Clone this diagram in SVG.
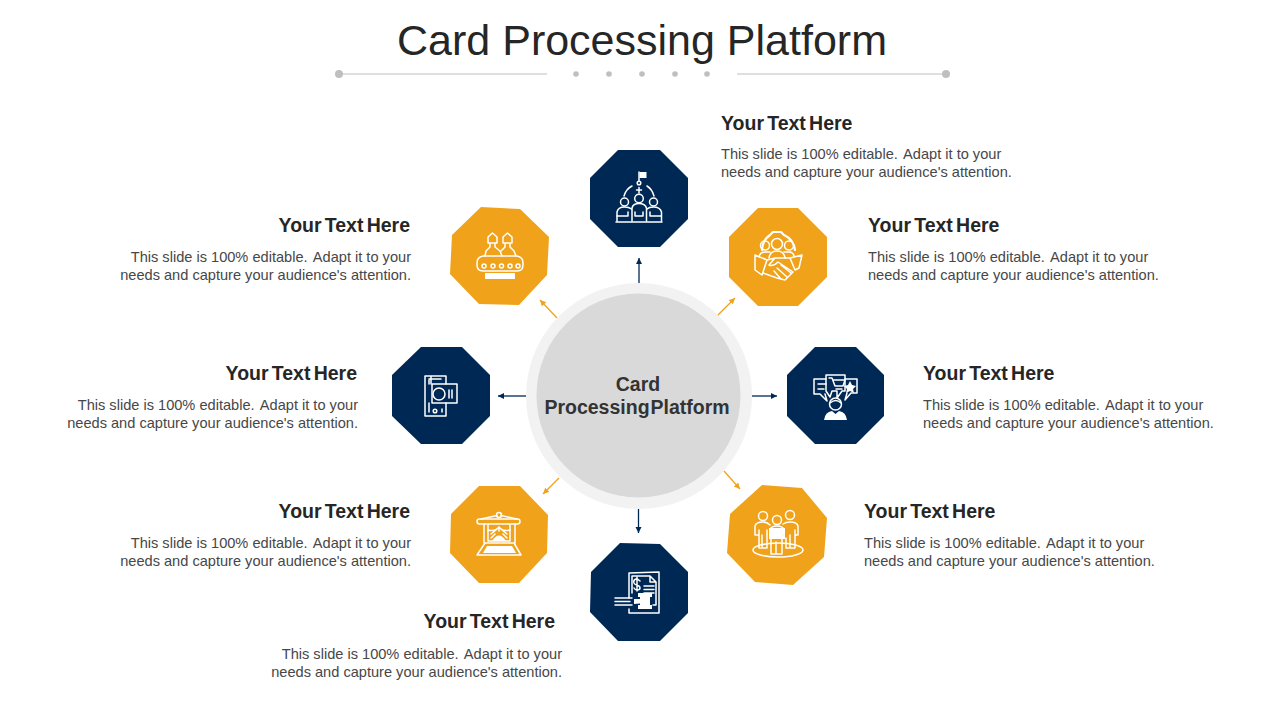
<svg xmlns="http://www.w3.org/2000/svg" width="1280" height="720" viewBox="0 0 1280 720">
<style>
text{font-family:"Liberation Sans",Arial,sans-serif}
.title{font-size:43px;fill:#262626;text-anchor:middle}
.h{font-size:19.500px;font-weight:700;fill:#262626;word-spacing:-2.200px}
.b{font-size:14.600px;fill:#474747}
.e{text-anchor:end}
.c{font-size:19.500px;font-weight:700;fill:#333;text-anchor:middle;word-spacing:-4.500px}
.navy{fill:#002855}
.org{fill:#f0a31a}
.i{fill:none;stroke:#fff;stroke-width:1.500;stroke-linejoin:round;stroke-linecap:round}
.f{fill:#fff;stroke:none}
.an{stroke:#002855;stroke-width:1.300;fill:none;marker-end:url(#an)}
.ao{stroke:#f0a31a;stroke-width:1.300;fill:none;marker-end:url(#ao)}
.dot{fill:#bfbfbf}
</style>
<defs>
<marker id="an" markerUnits="userSpaceOnUse" markerWidth="8" markerHeight="8" refX="6" refY="3" orient="auto"><path d="M0 0L6 3L0 6Z" fill="#002855"/></marker>
<marker id="ao" markerUnits="userSpaceOnUse" markerWidth="8" markerHeight="8" refX="6" refY="3" orient="auto"><path d="M0 0L6 3L0 6Z" fill="#f0a31a"/></marker>
</defs>
<rect width="1280" height="720" fill="#fff"/>
<g id="header">
<text class="title" x="642" y="55">Card Processing Platform</text>
<path d="M339 74H547M737 74H946" stroke="#bfbfbf" stroke-width="1.200" fill="none"/>
<circle class="dot" cx="339" cy="74" r="4"/><circle class="dot" cx="946" cy="74" r="4"/>
<circle class="dot" cx="576" cy="74" r="2.800"/><circle class="dot" cx="609" cy="74" r="2.800"/><circle class="dot" cx="642" cy="74" r="2.800"/><circle class="dot" cx="675" cy="74" r="2.800"/><circle class="dot" cx="707" cy="74" r="2.800"/>
</g>
<g id="connectors">
<path class="an" d="M639 283V258"/>
<path class="ao" d="M717 316L735 298"/>
<path class="an" d="M752 396H777"/>
<path class="ao" d="M724 471L740 489"/>
<path class="an" d="M638.500 509V533"/>
<path class="ao" d="M559 478L543 494"/>
<path class="an" d="M526 396H498"/>
<path class="ao" d="M557 318L540 300"/>
</g>
<g id="hub">
<circle cx="639" cy="396" r="113" fill="#f2f2f2"/>
<circle cx="638.500" cy="395.500" r="102" fill="#d9d9d9"/>
<text class="c" x="638" y="391">Card</text>
<text class="c" x="637" y="414">Processing Platform</text>
</g>
<g id="node-top">
<path class="navy" d="M618 150H660L688 178V219L660 247H618L590 219V178Z"/>
<path class="f" d="M639.500 172H646.500V178H639.500Z"/>
<g class="i">
<path d="M639 172V181"/><circle cx="639" cy="183" r="1.800"/>
<path d="M639 187.500V193M636.500 190H641.500"/>
<path d="M632 186Q626 189 624 196M647 186Q652 189 654 196"/>
<circle cx="624.500" cy="202" r="4"/><circle cx="639" cy="198.500" r="4.300"/><circle cx="653.500" cy="202" r="4"/>
<path d="M617 221V212Q618 207 624.500 207Q629 207 631.500 209M647 209Q649 207 653.500 207Q660 207 661.500 212V221"/>
<path d="M632 221V208Q633 203.500 639 203.500Q645 203.500 646.500 208V221"/>
<path d="M617 216H628V212M661 216H650V212M635 212V216H643V212M616 222H662"/>
</g></g>
<g id="node-top-right">
<path class="org" d="M758 208H798L827 237V277L798 306H758L729 277V237Z"/>
<g class="i">
<path d="M762 250A19 19 0 0 1 770 235L773 232H781L784 235A19 19 0 0 1 795 250" stroke-width="2.200"/>
<circle cx="765" cy="245.500" r="4.500"/><circle cx="777" cy="244" r="5.500"/><circle cx="789" cy="245.500" r="4.500"/>
<path d="M759 257Q760 252 765 252L770 252M784 252H789Q793 252 794 256M769 258Q770 251 777 251Q784 251 785 258"/>
<path d="M755 255L767 260L762 275L755 270ZM802 255L790 258L795 270L799 268Z"/>
<path d="M767 260L775 258L790 258M775 258L769 265Q773 267 778 262L793 272L785 280L777 278L763 273M781 265L791 273M777 268L787 277M774 271L781 279"/>
</g></g>
<g id="node-top-left">
<path class="org" d="M481 207L520 209L549 237L547 275L519 305L479 304L450 274L452 235Z"/>
<g class="i">
<path d="M477 263Q477 257 483 256H517Q523 257 523 263V265Q523 271 517 271H483Q477 271 477 265Z"/>
<circle cx="484" cy="266" r="2"/><circle cx="493" cy="266" r="2"/><circle cx="501.500" cy="266" r="2"/><circle cx="510" cy="266" r="2"/><circle cx="518" cy="266" r="2"/>
<path d="M492.500 233L497 237V243H488V237ZM488 243H497M490 243V247L486 251L485 256M495 243V247L500 251L502 256"/>
<path d="M507.500 233L512 237V243H503V237ZM503 243H512M505 243V247L501 251M510 243V247L514 251L516 256"/>
</g>
<rect class="f" x="485" y="273" width="30" height="6"/></g>
<g id="node-left">
<path class="navy" d="M421 347H462L490 375V416L462 444H421L392 416V375Z"/>
<g class="i">
<path d="M431 384V376H425V416H446V403M446 384V376H431M429 379H441M429 380V384M429 403V412M442 409V412"/>
<circle cx="435" cy="411" r="1.800"/>
<rect x="432" y="384" width="25" height="19"/><circle cx="439" cy="394" r="6"/>
<path d="M449 390V398M452 390V398"/>
</g></g>
<g id="node-right">
<path class="navy" d="M815 347H856L884 375V416L856 444H815L787 416V375Z"/>
<g class="i">
<path d="M826 379H814V394H820L827 401L825 394"/>
<path d="M818 384H826M818 389H824"/>
<path d="M826 375H845V391H842L837 398V391H832L830 397L826 391Z"/>
<path d="M829 378H832L835 386H843L845 380H833M836 389H842"/>
<path d="M845 379H857V393H851L845 400L847 393"/>
<circle cx="835.500" cy="404" r="6"/><path d="M830 403Q836 398 841 403"/>
</g>
<path class="f" d="M850 381L852 385L856 386L853 389L854 393L850 391L846 393L847 389L844 386L848 385Z"/>
<path class="f" d="M824 420Q825 412 832 411L835.500 414L839 411Q846 412 847 420Z"/></g>
<g id="node-bottom-right">
<path class="org" d="M762 485L802 488L827 518L824 557L793 585L755 582L727 553L730 514Z"/>
<g class="i">
<ellipse cx="778" cy="550" rx="25" ry="7"/>
<circle cx="763" cy="516" r="4.500"/><circle cx="777" cy="520" r="4.500"/><circle cx="790" cy="515" r="4.500"/>
<path d="M755 535V526Q756 522 763 522Q767 522 770 525M759 530V548H762V535M762 548H767V530M755 535H758"/>
<path d="M783 524Q786 522 790 522Q797 522 798 526V535H795M795 530V548H790V535M790 548H786V538"/>
<path d="M770 530Q771 526 777 526Q783 526 784 530M771 538V554H776V542M776 554H782V538"/>
</g>
<rect class="f" x="769" y="528" width="16" height="11"/></g>
<g id="node-bottom">
<path class="navy" d="M620 543L660 544L688 572V613L660 641H618L590 612L591 572Z"/>
<g class="i">
<path d="M629 598V573L659 572V613H629V609"/>
<path d="M632 593V576H650L656 582V605H653M650 576V582H656"/>
</g>
<g class="i" stroke-width="1.200">
<path d="M637 577V591M640 581Q638 579 636 579Q633 580 634 583Q635 585 637 585Q640 586 640 588Q640 590 637 590Q635 590 634 588"/>
<path d="M644 586H654M644 589.500H654M644 593H654"/>
<path d="M615 598H632M615 605H632M615 601.500H630"/>
</g>
<path class="f" d="M638 593H652V597H650V605H652V609H638V605H640V603.500L634 604V599L640 599V597H638Z"/>
</g>
<g id="node-bottom-left">
<path class="org" d="M479 486L520 486L548 515L547 553L519 583L479 583L450 553L451 514Z"/>
<g class="i">
<rect x="477" y="519" width="43" height="5" rx="2.500"/><circle cx="499" cy="515" r="2.500"/>
<path d="M481 519L497 515.500M517 519L501 515.500"/>
<path d="M484 524V543M515 524V543M488 525V541H510V525"/>
<path d="M488 530Q495 532 499 527Q503 532 510 530M491 534L496 530M507 534L502 530M499 527V531M491 538L495 534M507 538L503 534"/>
<path d="M485 543L477 555H521L514 543Z"/>
</g>
<path class="f" d="M492 541Q499 530 506 541Z"/><path class="f" d="M487 546H512L516 553H483Z"/></g>
<g id="label-top"><text class="h" x="721" y="130">Your Text Here</text><text class="b" x="721" y="159">This slide is 100% editable. <tspan dx="2">Adapt it to your</tspan></text><text class="b" x="721" y="177">needs and capture your audience's attention.</text></g>
<g id="label-top-right"><text class="h" x="868" y="232">Your Text Here</text><text class="b" x="868" y="262">This slide is 100% editable. <tspan dx="2">Adapt it to your</tspan></text><text class="b" x="868" y="280">needs and capture your audience's attention.</text></g>
<g id="label-right"><text class="h" x="923" y="380">Your Text Here</text><text class="b" x="923" y="410">This slide is 100% editable. <tspan dx="2">Adapt it to your</tspan></text><text class="b" x="923" y="428">needs and capture your audience's attention.</text></g>
<g id="label-bottom-right"><text class="h" x="864" y="518">Your Text Here</text><text class="b" x="864" y="548">This slide is 100% editable. <tspan dx="2">Adapt it to your</tspan></text><text class="b" x="864" y="566">needs and capture your audience's attention.</text></g>
<g id="label-top-left"><text class="h e" x="410" y="232">Your Text Here</text><text class="b e" x="411" y="262">This slide is 100% editable. <tspan dx="2">Adapt it to your</tspan></text><text class="b e" x="411" y="280">needs and capture your audience's attention.</text></g>
<g id="label-left"><text class="h e" x="357" y="380">Your Text Here</text><text class="b e" x="358" y="410">This slide is 100% editable. <tspan dx="2">Adapt it to your</tspan></text><text class="b e" x="358" y="428">needs and capture your audience's attention.</text></g>
<g id="label-bottom-left"><text class="h e" x="410" y="518">Your Text Here</text><text class="b e" x="411" y="548">This slide is 100% editable. <tspan dx="2">Adapt it to your</tspan></text><text class="b e" x="411" y="566">needs and capture your audience's attention.</text></g>
<g id="label-bottom"><text class="h e" x="555" y="628">Your Text Here</text><text class="b e" x="562" y="659">This slide is 100% editable. <tspan dx="2">Adapt it to your</tspan></text><text class="b e" x="562" y="677">needs and capture your audience's attention.</text></g>
</svg>
